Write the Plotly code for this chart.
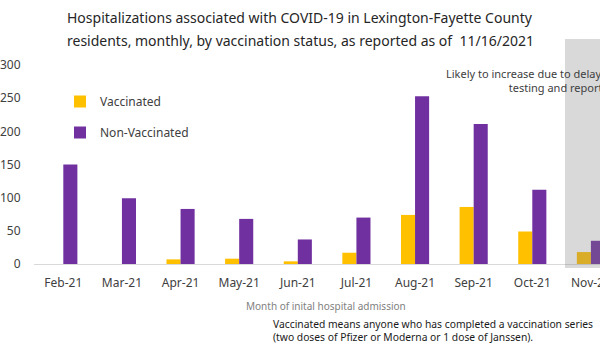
import plotly.graph_objects as go

months = ["Feb-21", "Mar-21", "Apr-21", "May-21", "Jun-21", "Jul-21",
          "Aug-21", "Sep-21", "Oct-21", "Nov-21"]
vaccinated = [0, 0, 7, 8, 4, 17, 74, 86, 49, 18]
non_vaccinated = [150, 99, 83, 68, 37, 70, 253, 211, 112, 35]
y_ticks = [0, 50, 100, 150, 200, 250, 300]

FONT = "Noto Sans"
W, H = 600, 350
ML, MT, MB = 34, 65, 86
PH = H - MT - MB
PW = W - ML

fig = go.Figure()
fig.add_trace(go.Bar(x=months, y=vaccinated, name="Vaccinated",
                     marker=dict(color="#FFC000", line=dict(width=0)),
                     legendgroup="a"))
fig.add_trace(go.Bar(x=months, y=non_vaccinated, name="Non-Vaccinated",
                     marker=dict(color="#7030A0", line=dict(width=0)),
                     legendgroup="b"))

fig.add_shape(type="rect", xref="paper", yref="paper",
              x0=(565 - ML) / PW, x1=1.05, y0=-4 / PH, y1=(264 - 39) / PH,
              fillcolor="rgba(128,128,128,0.3)", line=dict(width=0), layer="above")

def px_x(x):
    return (x - ML) / PW

def px_y(y):
    return (H - MB - y) / PH

fig.add_annotation(text="Hospitalizations associated with COVID-19 in Lexington-Fayette County",
                   xref="paper", yref="paper", x=px_x(300), y=px_y(18),
                   xanchor="center", yanchor="middle", showarrow=False,
                   font=dict(family=FONT, size=14, color="#262626"))
fig.add_annotation(text="residents, monthly, by vaccination status, as reported as of  11/16/2021",
                   xref="paper", yref="paper", x=px_x(300), y=px_y(40),
                   xanchor="center", yanchor="middle", showarrow=False,
                   font=dict(family=FONT, size=14, color="#262626"))
fig.add_annotation(text="Likely to increase due to delays in<br>testing and reporting",
                   xref="paper", yref="paper", x=px_x(621), y=px_y(64),
                   xanchor="right", yanchor="top", align="right", showarrow=False,
                   font=dict(family=FONT, size=11, color="#404040"))
fig.add_annotation(text="Month of inital hospital admission",
                   xref="paper", yref="paper", x=px_x(326), y=px_y(306),
                   xanchor="center", yanchor="middle", showarrow=False,
                   font=dict(family=FONT, size=10, color="#7f7f7f"))
fig.add_annotation(text="Vaccinated means anyone who has completed a vaccination series<br>(two doses of Pfizer or Moderna or 1 dose of Janssen).",
                   xref="paper", yref="paper", x=px_x(271), y=px_y(315),
                   xanchor="left", yanchor="top", align="left", showarrow=False,
                   font=dict(family=FONT, size=10.3, color="#1a1a1a"))

fig.update_layout(
    width=W, height=H,
    margin=dict(l=ML, r=0, t=MT, b=MB, autoexpand=False),
    paper_bgcolor="white", plot_bgcolor="white",
    barmode="group", bargap=0.52, bargroupgap=0,
    font=dict(family=FONT, color="#404040"),
    legend=dict(x=px_x(60), y=px_y(87), xanchor="left", yanchor="top",
                tracegroupgap=12, font=dict(family=FONT, size=12, color="#404040"),
                bgcolor="rgba(0,0,0,0)", itemwidth=30),
    showlegend=True,
)
fig.update_xaxes(range=[-0.5, 9.155], showline=True, linecolor="#d9d9d9", linewidth=1,
                 showgrid=False, ticks="outside", ticklen=8, tickcolor="rgba(0,0,0,0)",
                 tickfont=dict(family=FONT, size=12, color="#404040"), automargin=False)
fig.update_yaxes(range=[0, 300], tickvals=y_ticks, showgrid=False, zeroline=False,
                 showline=False, ticks="outside", ticklen=10, tickcolor="rgba(0,0,0,0)",
                 tickfont=dict(family=FONT, size=12, color="#404040"), automargin=False)

fig.write_html("out.html")
